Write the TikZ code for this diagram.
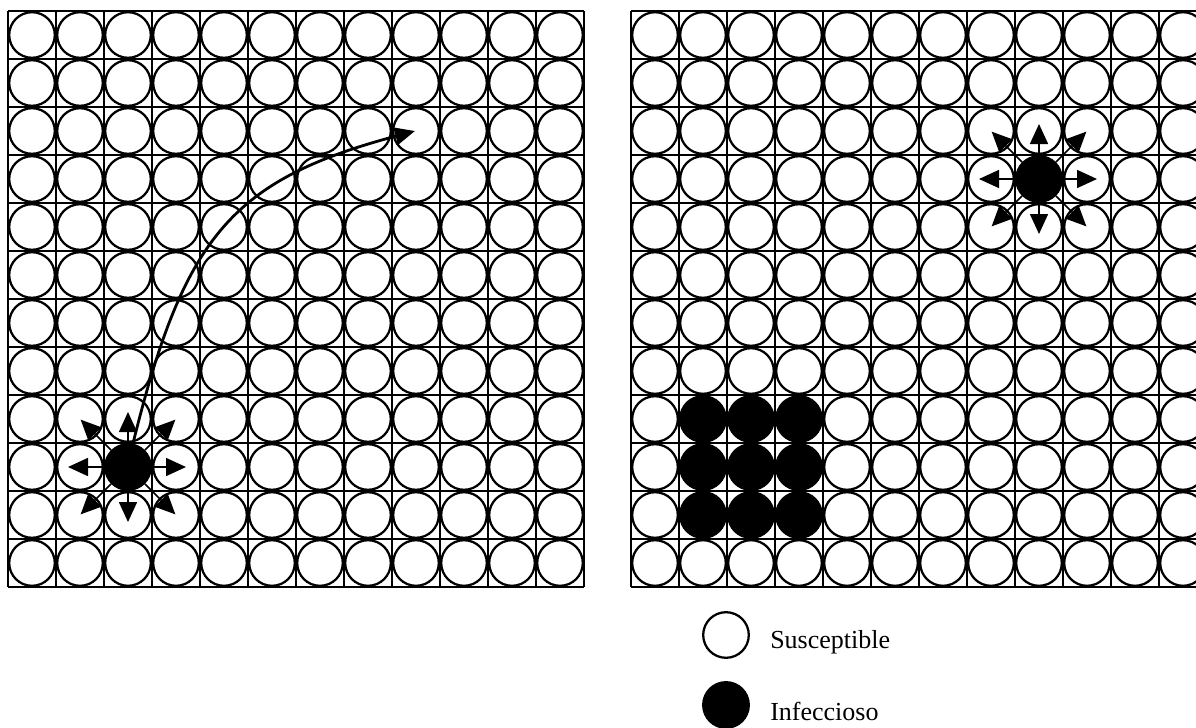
\documentclass[tikz,border=0pt]{standalone}
\usepackage{fontspec}
\setmainfont{Liberation Serif}
\usetikzlibrary{arrows.meta,calc}
\begin{document}
\begin{tikzpicture}[x=0.75pt,y=-0.75pt,
  gridline/.style={line width=1.4pt},
  cell/.style={circle,draw,line width=1.7pt,fill=white,minimum size=34.2pt,inner sep=0pt},
  infected/.style={cell,fill=black},
  spread/.style={line width=1.2pt,-{Triangle[length=15pt,width=13.5pt]}},
  jumparrow/.style={line width=2.1pt,-{Triangle[length=15pt,width=13pt]}},
  legendtext/.style={anchor=base west,font=\fontsize{19.5}{23}\selectfont,inner sep=0pt}]
\useasboundingbox (0,0) rectangle (1196,728);
\clip (0,0) rectangle (1196,728);
% grids
\foreach \i in {0,...,12} {
  \draw[gridline] (8+48*\i,11) -- (8+48*\i,587);
  \draw[gridline] (8,11+48*\i) -- (584,11+48*\i);
  \draw[gridline] (631+48*\i,11) -- (631+48*\i,587);
  \draw[gridline] (631,11+48*\i) -- (1207,11+48*\i);
}
% cells
\foreach \c in {0,...,11} {
  \foreach \r in {0,...,11} {
    \def\st{cell}
    \ifnum\c=2 \ifnum\r=9 \def\st{infected}\fi\fi
    \node[\st] (L-\c-\r) at (32+48*\c,35+48*\r) {};
    \def\st{cell}
    \ifnum\c=8 \ifnum\r=3 \def\st{infected}\fi\fi
    \ifnum\c>0 \ifnum\c<4 \ifnum\r>7 \ifnum\r<11 \def\st{infected}\fi\fi\fi\fi
    \node[\st] (R-\c-\r) at (655+48*\c,35+48*\r) {};
  }
}
% local spread arrows
\foreach \a/\d in {0/58,90/55,180/60,270/55,45/67,135/67,225/67,315/67} {
  \draw[spread] (L-2-9) -- ++(\a:\d);
  \draw[spread] (R-8-3) -- ++(\a:\d);
}
% long-range jump
\coordinate (jump) at (415,131);
\draw[jumparrow] (L-2-9.78) .. controls (184,236) and (232,180) .. (jump);
% legend
\node[cell] (legS) at (726,635) {};
\node[infected] (legI) at (726,705) {};
\node[legendtext] (tS) at (770,648) {Susceptible};
\node[legendtext] (tI) at (770,720) {Infeccioso};
\end{tikzpicture}
\end{document}
